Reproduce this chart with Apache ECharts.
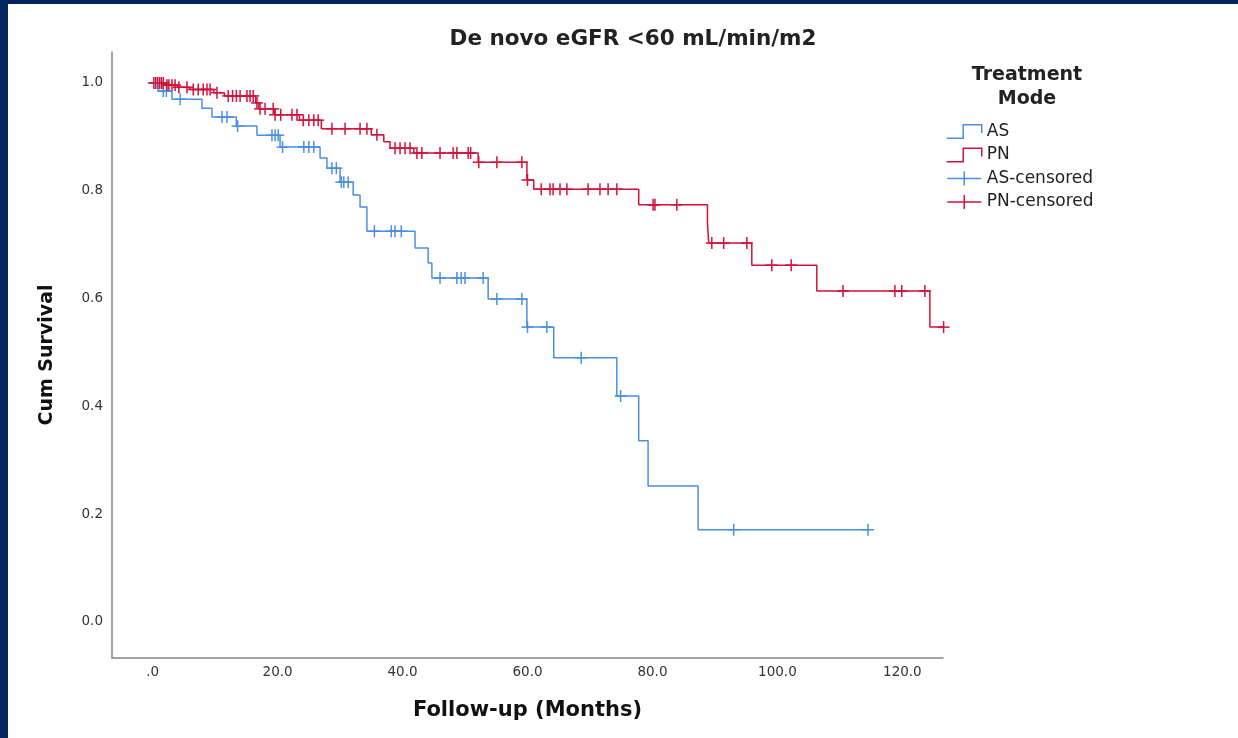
<!DOCTYPE html>
<html>
<head>
<meta charset="utf-8">
<script src="https://cdn.jsdelivr.net/npm/echarts@6/dist/echarts.min.js"></script>
<style>
	html, body { margin: 0; padding: 0; }
	#frame { position: absolute; left: 0; top: 0; width: 1238px; height: 738px; background: #03255e; }
	#main { position: absolute; left: 8px; top: 4px; width: 1230px; height: 734px; background: #ffffff; }
</style>
</head>
<body>
<div id="frame"><div id="main"></div></div>
<script>
// AS: event times (months) and survival after each event
var asTimes = [0, 0.9, 3.1, 7.9, 9.5, 13.4, 16.7, 20.4, 26.8, 27.9, 30.0, 32.1, 33.2, 34.3, 42.0, 44.1, 44.7, 53.7, 59.9, 64.2, 74.3, 77.8, 79.3, 87.3, 114.5];
var asSurv  = [1.0, 0.985, 0.970, 0.953, 0.937, 0.920, 0.903, 0.881, 0.861, 0.842, 0.816, 0.792, 0.770, 0.725, 0.694, 0.666, 0.638, 0.599, 0.547, 0.490, 0.419, 0.336, 0.252, 0.171, 0.171];
var asCensor = [1.7, 2.2, 4.4, 11.1, 11.9, 13.6, 19.1, 19.6, 20.1, 20.8, 24.2, 25.0, 25.8, 28.7, 29.4, 30.2, 30.6, 31.3, 35.5, 38.2, 38.8, 39.8,
	46.0, 48.7, 49.4, 50.0, 52.9, 55.1, 59.1, 60.0, 63.1, 68.6, 74.9, 93.0, 114.5];

// PN
var pnTimes = [0, 2.0, 4.0, 6.0, 9.8, 11.5, 16.5, 17.0, 19.5, 23.5, 27.0, 35.0, 37.0, 38.0, 41.8, 52.1, 59.9, 61.0, 77.8, 88.8, 89.0, 95.9, 106.3, 124.4, 126.6];
var pnSurv  = [1.0, 0.996, 0.992, 0.988, 0.982, 0.976, 0.963, 0.952, 0.941, 0.931, 0.915, 0.904, 0.891, 0.879, 0.870, 0.853, 0.820, 0.803, 0.774, 0.740, 0.703, 0.662, 0.614, 0.547, 0.547];
var pnCensor = [0.2, 0.5, 0.8, 1.1, 1.4, 1.7, 2.3, 2.6, 3.1, 3.6, 4.2, 5.5, 6.5, 7.3, 8.1, 8.7, 9.2, 10.3, 12.1, 12.8, 13.4, 14.0, 15.1, 15.6, 16.1,
	16.7, 17.2, 18.0, 19.3, 19.6, 20.5, 22.3, 23.1, 24.1, 25.0, 25.8, 26.5, 28.7, 30.8, 33.2, 34.3, 35.9, 38.8, 39.6, 40.4, 41.2,
	42.3, 43.1, 46.0, 48.1, 48.7, 50.5, 50.9, 52.2, 55.1, 59.1, 60.0, 62.2, 63.6, 64.1, 65.2, 66.3, 69.7, 71.6, 72.9, 74.3,
	80.1, 80.4, 83.9, 89.5, 91.4, 95.1, 99.1, 102.2, 110.5, 118.8, 119.9, 123.6, 126.6];

var xTicks = [0, 20, 40, 60, 80, 100, 120];
var yTicks = [0, 0.2, 0.4, 0.6, 0.8, 1.0];

var blue = '#4a8fe0';
var red = '#d3113a';
var font = 'DejaVu Sans';

function pairs(t, s) {
	var out = [];
	for (var i = 0; i < t.length; i++) out.push([t[i], s[i]]);
	return out;
}
// survival value of a step curve at time x
function stepAt(t, s, x) {
	var v = s[0];
	for (var i = 0; i < t.length; i++) if (t[i] <= x) v = s[i];
	return v;
}
function censorPoints(c, t, s) {
	return c.map(function (x) { return [x, stepAt(t, s, x)]; });
}
function crossRender(color) {
	return function (params, api) {
		var p = api.coord([api.value(0), api.value(1)]);
		var st = { stroke: color, lineWidth: 1.5 };
		return {
			type: 'group',
			children: [
				{ type: 'line', shape: { x1: p[0], y1: p[1] - 6, x2: p[0], y2: p[1] + 6 }, style: st },
				{ type: 'line', shape: { x1: p[0] - 6, y1: p[1], x2: p[0] + 6, y2: p[1] }, style: st }
			]
		};
	};
}

var stepIcon = 'path://M0,14L16,14L16,1L34,1L34,9';
var crossIcon = 'path://M0,7L34,7M17,0L17,14';

var myChart = echarts.init(document.getElementById('main'));
var option = {
	backgroundColor: '#ffffff',
	animation: false,
	title: [
		{
			text: 'De novo eGFR <60 mL/min/m2',
			left: 620, top: 19, textAlign: 'center',
			textStyle: { fontFamily: font, fontSize: 21.5, fontWeight: 'bold', color: '#222' }
		},
		{
			text: 'Treatment\nMode',
			left: 1014, top: 54, textAlign: 'center',
			textStyle: { fontFamily: font, fontSize: 19, fontWeight: 'bold', color: '#222', lineHeight: 24 }
		}
	],
	legend: {
		orient: 'vertical',
		left: 933, top: 114,
		itemWidth: 35, itemHeight: 14, itemGap: 6.5,
		textStyle: { fontFamily: font, fontSize: 17, color: '#222' },
		data: [
			{ name: 'AS', icon: stepIcon, itemStyle: { color: 'rgba(0,0,0,0)', borderColor: blue, borderWidth: 1.5 } },
			{ name: 'PN', icon: stepIcon, itemStyle: { color: 'rgba(0,0,0,0)', borderColor: red, borderWidth: 1.5 } },
			{ name: 'AS-censored', icon: crossIcon, itemStyle: { color: 'rgba(0,0,0,0)', borderColor: blue, borderWidth: 1.5 } },
			{ name: 'PN-censored', icon: crossIcon, itemStyle: { color: 'rgba(0,0,0,0)', borderColor: red, borderWidth: 1.5 } }
		]
	},
	grid: { left: 104, top: 48, right: 295, bottom: 80 },
	xAxis: {
		type: 'value',
		min: -6.5, max: 126.5,
		name: 'Follow-up (Months)',
		nameLocation: 'middle', nameGap: 42,
		nameTextStyle: { fontFamily: font, fontSize: 21, fontWeight: 'bold', color: '#111' },
		axisLine: { onZero: false, lineStyle: { color: '#888', width: 1.5 } },
		axisTick: { show: false },
		splitLine: { show: false },
		axisLabel: {
			customValues: xTicks,
			margin: 7,
			fontFamily: font, fontSize: 13.5, color: '#333',
			formatter: function (v) { return v === 0 ? '.0' : v.toFixed(1); }
		}
	},
	yAxis: {
		type: 'value',
		min: -0.067, max: 1.0575,
		name: 'Cum Survival',
		nameLocation: 'middle', nameGap: 55,
		nameTextStyle: { fontFamily: font, fontSize: 19, fontWeight: 'bold', color: '#111' },
		axisLine: { show: true, onZero: false, lineStyle: { color: '#888', width: 1.5 } },
		axisTick: { show: false },
		splitLine: { show: false },
		axisLabel: {
			customValues: yTicks,
			margin: 9,
			fontFamily: font, fontSize: 13.5, color: '#333',
			formatter: function (v) { return v.toFixed(1); }
		}
	},
	series: [
		{
			name: 'AS', type: 'line', step: 'end', showSymbol: false,
			data: pairs(asTimes, asSurv),
			lineStyle: { color: blue, width: 1.5 }, itemStyle: { color: blue }
		},
		{
			name: 'PN', type: 'line', step: 'end', showSymbol: false,
			data: pairs(pnTimes, pnSurv),
			lineStyle: { color: red, width: 1.5 }, itemStyle: { color: red }
		},
		{
			name: 'AS-censored', type: 'custom',
			renderItem: crossRender(blue),
			data: censorPoints(asCensor, asTimes, asSurv),
			itemStyle: { color: blue }
		},
		{
			name: 'PN-censored', type: 'custom',
			renderItem: crossRender(red),
			data: censorPoints(pnCensor, pnTimes, pnSurv),
			itemStyle: { color: red }
		}
	]
};
myChart.setOption(option);
</script>
</body>
</html>
